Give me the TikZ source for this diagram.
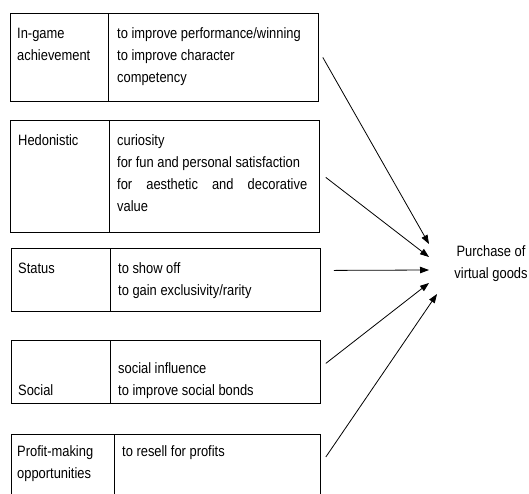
\documentclass[tikz,border=0pt]{standalone}
\usepackage{fontspec}
\setmainfont{Liberation Sans}[FakeStretch=0.86]
\usetikzlibrary{arrows.meta,calc}
\begin{document}
\begin{tikzpicture}[x=1pt,y=-1pt,
  box/.style={draw, line width=0.8pt, inner sep=0pt, anchor=north west},
  txt/.style={anchor=base west, inner sep=0pt, font=\fontsize{15}{22}\selectfont},
  arr/.style={-{Triangle[length=9pt,width=6.5pt]}, line width=0.8pt}]
\useasboundingbox (0,0) rectangle (529,493);
\clip (0,0) rectangle (529,493);
\fill[white] (0,0) rectangle (529,493);
% box 1
\node[box, minimum width=98pt, minimum height=88pt] (l1) at (10,13) {};
\node[box, minimum width=210pt, minimum height=88pt] (r1) at (108,13) {};
\node[txt] (tl1) at (17,38) {\parbox[t]{90pt}{In-game\\achievement}};
\node[txt] (tr1) at (117,38) {\parbox[t]{200pt}{to improve performance/winning\\to improve character\\competency}};
% box 2
\node[box, minimum width=99pt, minimum height=112pt] (l2) at (10,120) {};
\node[box, minimum width=210pt, minimum height=112pt] (r2) at (109,120) {};
\node[txt] (tl2) at (18,145) {Hedonistic};
\node[txt] (tr2) at (117,145) {\parbox[t]{200pt}{curiosity\\for fun and personal satisfaction\\\makebox[190pt][s]{for aesthetic and decorative}\\value}};
% box 3
\node[box, minimum width=99pt, minimum height=63pt] (l3) at (11,248) {};
\node[box, minimum width=210pt, minimum height=63pt] (r3) at (110,248) {};
\node[txt] (tl3) at (18,273) {Status};
\node[txt] (tr3) at (118,273) {\parbox[t]{200pt}{to show off\\to gain exclusivity/rarity}};
% box 4
\node[box, minimum width=99pt, minimum height=63pt] (l4) at (11,340) {};
\node[box, minimum width=210pt, minimum height=63pt] (r4) at (110,340) {};
\node[txt] (tl4) at (18,395) {Social};
\node[txt] (tr4) at (118,373) {\parbox[t]{200pt}{social influence\\to improve social bonds}};
% box 5
\node[box, minimum width=103pt, minimum height=80pt] (l5) at (11,434) {};
\node[box, minimum width=206pt, minimum height=80pt] (r5) at (114,434) {};
\node[txt] (tl5) at (17,456) {\parbox[t]{100pt}{Profit-making\\opportunities}};
\node[txt] (tr5) at (122,456) {to resell for profits};
% target
\node[inner sep=0pt, align=center, font=\fontsize{15}{22}\selectfont] (p) at (491,264) {Purchase of\\virtual goods};
\coordinate (t1) at (429,244);
\coordinate (t2) at (429,257);
\coordinate (t3) at (429,270);
\coordinate (t4) at (429,283);
\coordinate (t5) at (437,294);
\draw[arr] ($(r1.east)+(4,0)$) -- (t1);
\draw[arr] ($(r2.east)+(6,1)$) -- (t2);
\draw[arr] ($(r3.east)+(13,-9.5)$) -- (t3);
\draw[arr] ($(r4.east)+(5,-8.5)$) -- (t4);
\draw[arr] ($(r5.north east)+(5,23)$) -- (t5);
\end{tikzpicture}
\end{document}
